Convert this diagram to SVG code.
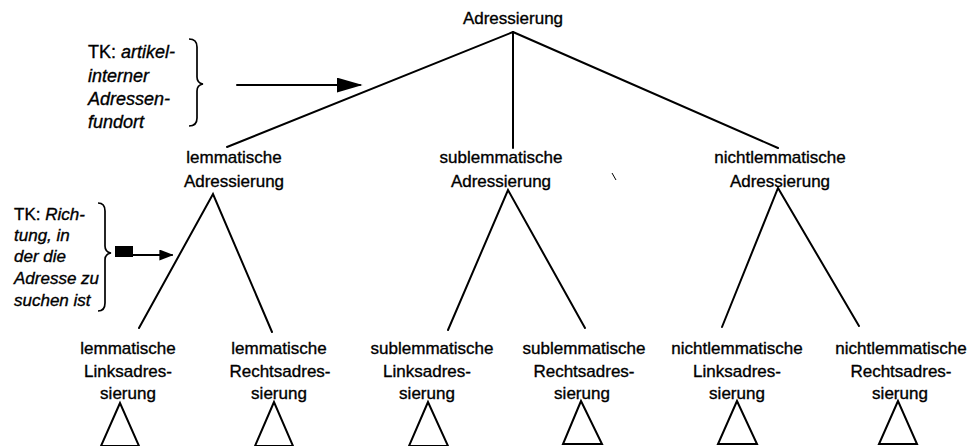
<svg xmlns="http://www.w3.org/2000/svg" width="971" height="446" viewBox="0 0 971 446">
<defs>
<style>
.t{font-family:"Liberation Sans",Arial,sans-serif;font-size:17px;fill:#000;stroke:#000;stroke-width:0.35;text-anchor:middle}
.a{font-family:"Liberation Sans",Arial,sans-serif;font-size:17px;fill:#000;stroke:#000;stroke-width:0.35}
.at{font-size:18px}
.i{font-style:italic}
.ln{stroke:#000;stroke-width:2;fill:none;stroke-linecap:round;stroke-linejoin:miter}
.br{stroke:#000;stroke-width:1.7;fill:none}
</style>
<marker id="ah" viewBox="0 0 10 10" refX="9" refY="5" markerWidth="14" markerHeight="11" markerUnits="userSpaceOnUse" orient="auto" preserveAspectRatio="none">
<path d="M0,0 L10,5 L0,10 z" fill="#000"/>
</marker>
<marker id="ah2" viewBox="0 0 10 10" refX="9" refY="5" markerWidth="26" markerHeight="15" markerUnits="userSpaceOnUse" orient="auto" preserveAspectRatio="none">
<path d="M0,0 L10,5 L0,10 z" fill="#000"/>
</marker>
</defs>
<rect width="971" height="446" fill="#fff"/>

<g id="connectors">
<line class="ln" x1="513" y1="32" x2="227" y2="147"/>
<line class="ln" x1="513" y1="32" x2="513" y2="148"/>
<line class="ln" x1="513" y1="32" x2="778" y2="148"/>
<polyline class="ln" points="139,328 213,194 272,332"/>
<polyline class="ln" points="448,330 508,190 585,328"/>
<polyline class="ln" points="722,327 778,188 859,326"/>
</g>

<g id="n-root"><text class="t" x="513" y="24">Adressierung</text></g>

<g id="n-lemm"><text class="t" x="234" y="163">lemmatische</text><text class="t" x="234" y="187">Adressierung</text></g>
<g id="n-sub"><text class="t" x="501" y="163">sublemmatische</text><text class="t" x="501" y="187">Adressierung</text></g>
<g id="n-nicht"><text class="t" x="780" y="163">nichtlemmatische</text><text class="t" x="780" y="187">Adressierung</text></g>

<g id="n-lemm-links"><text class="t" x="128" y="354">lemmatische</text><text class="t" x="128" y="377">Linksadres-</text><text class="t" x="128" y="399">sierung</text>
<polygon class="ln" points="120,403 101,446 139,446"/></g>
<g id="n-lemm-rechts"><text class="t" x="279" y="354">lemmatische</text><text class="t" x="280" y="377">Rechtsadres-</text><text class="t" x="279" y="399">sierung</text>
<polygon class="ln" points="274,402 255,446 293,446"/></g>
<g id="n-sub-links"><text class="t" x="432" y="354">sublemmatische</text><text class="t" x="427" y="377">Linksadres-</text><text class="t" x="427" y="399">sierung</text>
<polygon class="ln" points="428,402 409,446 448,446"/></g>
<g id="n-sub-rechts"><text class="t" x="584" y="354">sublemmatische</text><text class="t" x="584" y="377">Rechtsadres-</text><text class="t" x="582" y="399">sierung</text>
<polygon class="ln" points="581,401 563,444 602,444"/></g>
<g id="n-nicht-links"><text class="t" x="737" y="354">nichtlemmatische</text><text class="t" x="737" y="377">Linksadres-</text><text class="t" x="737" y="399">sierung</text>
<polygon class="ln" points="737,401 718,444 757,444"/></g>
<g id="n-nicht-rechts"><text class="t" x="901" y="354">nichtlemmatische</text><text class="t" x="901" y="377">Rechtsadres-</text><text class="t" x="900" y="399">sierung</text>
<polygon class="ln" points="898,401 879,444 917,444"/></g>

<g id="ann-top">
<text class="a at" x="88" y="58">TK: <tspan class="i">artikel-</tspan></text>
<text class="a at i" x="88" y="82">interner</text>
<text class="a at i" x="88" y="105">Adressen-</text>
<text class="a at i" x="88" y="128">fundort</text>
<path class="br" d="M189,39 Q197,39 197,47 L197,77 Q197,83 203,84 Q197,85 197,91 L197,118 Q197,126 189,126"/>
<line class="ln" x1="237" y1="85" x2="360" y2="85" marker-end="url(#ah2)"/>
</g>

<g id="ann-left">
<text class="a" x="14" y="220">TK: <tspan class="i">Rich-</tspan></text>
<text class="a i" x="14" y="241">tung, in</text>
<text class="a i" x="14" y="262">der die</text>
<text class="a i" x="14" y="284">Adresse zu</text>
<text class="a i" x="14" y="306">suchen ist</text>
<path class="br" d="M98,203 Q105,203 105,211 L105,246 Q105,252 111,253 Q105,254 105,260 L105,303 Q105,311 98,311"/>
<rect x="115" y="246" width="18" height="11" fill="#000"/>
<line class="ln" x1="133" y1="255" x2="172" y2="255" marker-end="url(#ah)"/>
</g>

<line x1="612" y1="173" x2="616" y2="180" stroke="#000" stroke-width="1"/>
</svg>
